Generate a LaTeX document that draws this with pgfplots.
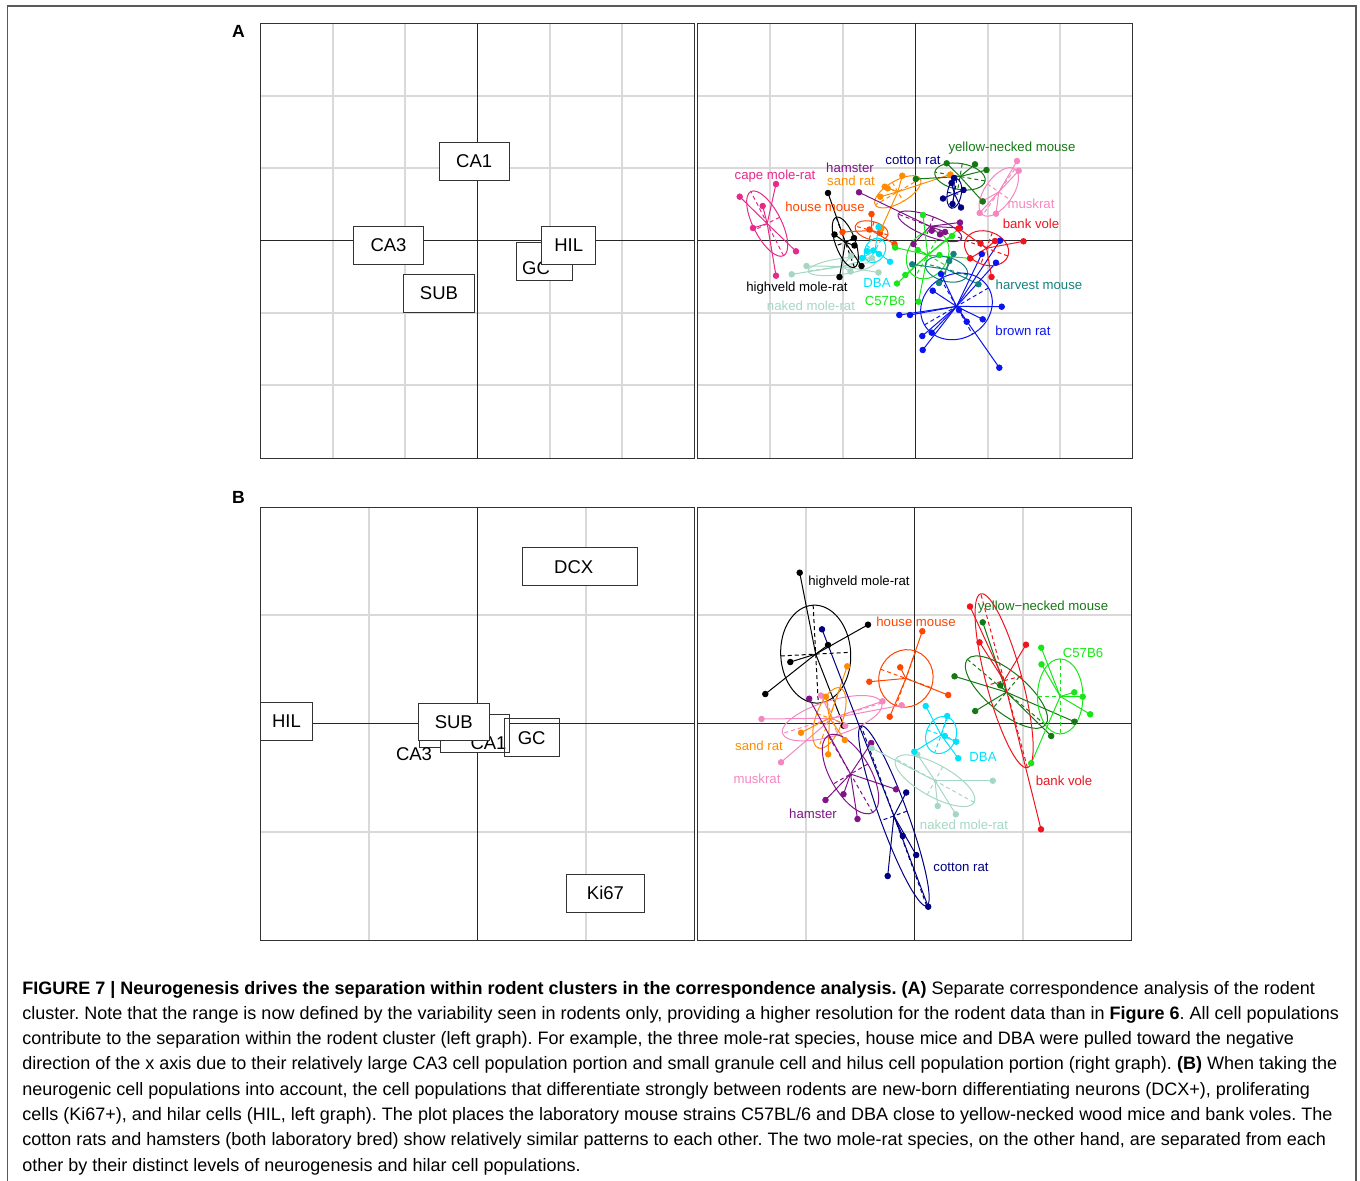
\documentclass[border=0pt]{standalone}
\usepackage{fontspec}
\setmainfont{Liberation Sans}
\usepackage{pgfplots}
\pgfplotsset{compat=1.18}
\frenchspacing
\definecolor{capecol}{RGB}{231,41,138}
\definecolor{hamcol}{RGB}{128,20,135}
\definecolor{sandcol}{RGB}{255,140,0}
\definecolor{housecol}{RGB}{255,69,0}
\definecolor{cottoncol}{RGB}{0,0,128}
\definecolor{yncol}{RGB}{20,120,20}
\definecolor{muskcol}{RGB}{245,135,192}
\definecolor{bvcol}{RGB}{240,20,30}
\definecolor{dbacol}{RGB}{0,225,250}
\definecolor{c57col}{RGB}{25,230,25}
\definecolor{harvcol}{RGB}{20,128,128}
\definecolor{browncol}{RGB}{10,20,240}
\definecolor{nakedcol}{RGB}{165,215,195}
\definecolor{gridcol}{RGB}{217,217,217}
\newcommand\spfont{\fontsize{6.6}{8}\selectfont}
\newcommand\boxfont{\fontsize{9.25}{11}\selectfont}
% species: color, cx, cy, a, b, angle, points
\newcommand\species[7]{%
  \addplot[#1, line width=0.5pt, quiver={u={#2-\thisrow{x}}, v={#3-\thisrow{y}}}] table[row sep=\\] {x y\\ #7};
  \addplot[#1, only marks, mark=*, mark size=1.4pt] table[row sep=\\] {x y\\ #7};
  \draw[#1, line width=0.5pt] (axis cs:#2,#3) ellipse [x radius={#4*0.5pt}, y radius={#5*0.5pt}, rotate=#6];
  \draw[#1, line width=0.5pt, dash pattern=on 2pt off 1.5pt] (axis cs:#2,#3) ++(#6:{#4*0.5pt}) -- ++(#6+180:{2*#4*0.5pt});
  \draw[#1, line width=0.5pt, dash pattern=on 2pt off 1.5pt] (axis cs:#2,#3) ++(#6+90:{#5*0.5pt}) -- ++(#6+270:{2*#5*0.5pt});
}
\newcommand\lab[4]{\node[text=#1, font=\spfont, inner sep=0pt] at (axis cs:#2,#3) {#4};}
\newcommand\bx[6]{\node[draw=black!80, fill=white, line width=0.5pt, inner sep=0pt, minimum width={#3*0.5pt}, minimum height={#4*0.5pt}, font=\boxfont] at (axis cs:#1,#2) {#6};}
\pgfplotsset{panel/.style={scale only axis, anchor=north west,
  xticklabels={}, yticklabels={}, major tick length=0pt,
  grid=major, major grid style={gridcol, line width=0.75pt},
  axis line style={black!80, line width=0.5pt},
  extra x tick labels={}, extra y tick labels={},
  extra tick style={major grid style={black!85, line width=0.5pt}},
  clip=true}}
\begin{document}
\begin{tikzpicture}
\path[use as bounding box] (0,0) rectangle (680pt,-590pt);
\draw[black!65, line width=0.75pt] (3.65pt,-591pt) -- (3.65pt,-3pt) -- (678pt,-3pt) -- (678pt,-591pt);
\node[font=\bfseries\fontsize{8.8}{10}\selectfont, inner sep=0pt] at (119.2pt,-15.7pt) {A};
\node[font=\bfseries\fontsize{8.8}{10}\selectfont, inner sep=0pt] at (119.2pt,-248.7pt) {B};

% ---------- A left ----------
\begin{axis}[panel, at={(130pt,-11.5pt)}, width=217pt, height=217.5pt,
  xmin=260, xmax=694, ymin=-458, ymax=-23,
  xtick={333,405,550,622}, ytick={-96,-168,-313,-385},
  extra x ticks={477}, extra y ticks={-240}]
\addplot[draw=none] coordinates {(477,-240)};
\bx{474.2}{-161.3}{69.7}{38}{}{CA1}
\bx{388.5}{-245.5}{69.6}{37.6}{}{CA3}
\bx{439}{-293.3}{71.4}{38}{}{SUB}
\bx{544.5}{-261.5}{55.6}{37.6}{}{}
\node[font=\boxfont, inner sep=0pt] at (axis cs:536,-267.7) {GC};
\bx{568.7}{-245.5}{54}{37.6}{}{HIL}
\end{axis}

% ---------- A right ----------
\begin{axis}[panel, at={(348.5pt,-11.5pt)}, width=217.5pt, height=217.5pt,
  xmin=697, xmax=1132, ymin=-458, ymax=-23,
  xtick={770,843,988,1060}, ytick={-96,-168,-313,-385},
  extra x ticks={915}, extra y ticks={-240}]
\species{capecol}{767.2}{-223.6}{36}{14}{-63}{739.7 -196.7\\ 776 -184\\ 762.7 -206\\ 753 -228\\ 796 -251.3\\ 776 -275.7\\}
\species{nakedcol}{841.7}{-266.4}{34}{8}{8}{791.7 -274.3\\ 806.5 -266\\ 850.5 -271.5\\ 878.5 -272.5\\ 872 -258\\ 851 -256\\}
\species{black}{845.3}{-242.3}{26.6}{10}{-70}{828 -193\\ 834.5 -234.5\\ 854 -238\\ 854.5 -245.5\\ 861.5 -266\\ 839.5 -277\\}
\species{housecol}{871.6}{-230.5}{17}{9}{-15}{871.5 -214\\ 869.5 -229.5\\ 842.5 -232\\ 894.5 -244\\ 880 -233\\}
\species{sandcol}{897.8}{-191.8}{26}{11}{30}{880.3 -196.7\\ 884.7 -186.7\\ 887.7 -188.3\\ 902.3 -175.7\\ 950.3 -174.5\\ 881.3 -228.7\\}
\species{hamcol}{929.9}{-226.3}{34}{10}{-21}{859 -192.3\\ 960 -222.5\\ 960 -228\\ 931.7 -230.7\\ 940 -234.3\\ 913.5 -244\\ 945 -232\\}
\species{dbacol}{875}{-250.4}{13}{10}{60}{878.5 -227\\ 873.3 -250.5\\ 879 -254\\ 890 -261.7\\ 867 -251\\ 862 -258\\}
\species{c57col}{927.7}{-255}{25}{20}{60}{923 -215\\ 958.5 -229\\ 952 -236\\ 939.5 -255\\ 970 -258.3\\ 895.2 -247.5\\ 917.7 -250\\ 897 -283.5\\ 918.5 -301.7\\ 905.3 -275\\}
\species{harvcol}{946.5}{-269.3}{21.7}{12}{-15}{953.5 -254\\ 949.2 -261\\ 912.2 -264.3\\ 939 -283\\ 978.5 -284.2\\}
\species{browncol}{956.5}{-306.4}{37}{32}{30}{1000 -240.7\\ 981.7 -254\\ 996 -262.7\\ 941 -274\\ 932.7 -290.7\\ 1001.7 -306.7\\ 899.3 -315\\ 910 -315\\ 959 -310\\ 982.7 -319.3\\ 966.7 -321.7\\ 931.7 -332.7\\ 922.3 -336\\ 922.7 -350\\ 999.3 -367.7\\}
\species{bvcol}{986.6}{-248.2}{22.7}{16.7}{-20}{980.5 -243.3\\ 1023.5 -241.3\\ 991.5 -277\\ 970.3 -258.3\\ 958.5 -228.5\\ 995 -241\\}
\species{muskcol}{998.8}{-191.9}{28}{14}{55}{1017 -161\\ 1018.7 -170.7\\ 982.7 -201\\ 979.7 -213\\ 996 -213.7\\}
\species{yncol}{960}{-176.5}{25.5}{13}{-10}{946.7 -163.3\\ 975 -164.3\\ 986.5 -170\\ 915.8 -179\\ 982.7 -201.5\\}
\species{cottoncol}{954.3}{-193.5}{15}{7}{80}{951.5 -183\\ 963.5 -190\\ 943 -198.5\\ 952.5 -204\\ 961 -207.5\\ 954 -178\\}
\lab{capecol}{775}{-176}{cape mole-rat}
\lab{hamcol}{850}{-168}{hamster}
\lab{sandcol}{851}{-181}{sand rat}
\lab{housecol}{825}{-207}{house mouse}
\lab{cottoncol}{913}{-160}{cotton rat}
\lab{yncol}{1012}{-148}{yellow-necked mouse}
\lab{muskcol}{1031}{-204}{muskrat}
\lab{bvcol}{1031}{-224}{bank vole}
\lab{black}{797}{-288}{highveld mole-rat}
\lab{nakedcol}{811}{-306}{naked mole-rat}
\lab{dbacol}{877}{-283}{DBA}
\lab{c57col}{885}{-301}{C57B6}
\lab{harvcol}{1039}{-285}{harvest mouse}
\lab{browncol}{1023}{-331}{brown rat}
\end{axis}

% ---------- B left ----------
\begin{axis}[panel, at={(130pt,-253.5pt)}, width=217pt, height=216.5pt,
  xmin=260, xmax=694, ymin=-940, ymax=-507,
  xtick={369,586}, ytick={-615,-832},
  extra x ticks={477}, extra y ticks={-723}]
\addplot[draw=none] coordinates {(477,-723)};
\bx{580}{-566.8}{114.6}{38.3}{}{}
\node[font=\boxfont, inner sep=0pt] at (axis cs:573.7,-567) {DCX};
\bx{286.5}{-721.2}{52.5}{37.7}{}{HIL}
\bx{454.2}{-728.5}{69.6}{37.6}{}{}
\node[font=\boxfont, inner sep=0pt] at (axis cs:414,-754.3) {CA3};
\bx{474.8}{-733.3}{69}{38}{}{}
\node[font=\boxfont, inner sep=0pt] at (axis cs:488.5,-743) {CA1};
\node[draw=black!80, line width=0.5pt, inner sep=0pt, minimum width={55*0.5pt}, minimum height={38*0.5pt}] at (axis cs:531.8,-737.3) {};
\node[font=\boxfont, inner sep=0pt] at (axis cs:531.7,-737.7) {GC};
\bx{453.8}{-721.7}{71}{36.7}{}{SUB}
\bx{605.5}{-893.3}{77.6}{38}{}{Ki67}
\end{axis}

% ---------- B right ----------
\begin{axis}[panel, at={(348.5pt,-253.5pt)}, width=217pt, height=216.5pt,
  xmin=697, xmax=1131, ymin=-940, ymax=-507,
  xtick={806,1023}, ytick={-615,-832},
  extra x ticks={914}, extra y ticks={-723}]
\species{black}{815.7}{-654.1}{49}{35}{93}{799.7 -572.7\\ 868 -624.7\\ 828 -645\\ 790.3 -662\\ 765.3 -694\\ 843.7 -725.7\\}
\species{housecol}{905.9}{-678.4}{29}{27}{70}{922.3 -631.2\\ 900.2 -667.3\\ 869.3 -681.7\\ 948.2 -695\\ 889.7 -716.7\\}
\species{muskcol}{832.2}{-718.2}{52}{17.6}{17}{761.5 -719\\ 781 -762.3\\ 821 -695.5\\ 845.3 -725.7\\ 882.5 -701.3\\ 901.7 -705.2\\}
\species{sandcol}{829.4}{-718}{32}{13.4}{70}{847.2 -666.3\\ 826 -696.7\\ 801 -732.7\\ 844.8 -740\\ 828.2 -754.3\\}
\species{hamcol}{850.5}{-774}{44.5}{20}{-60}{809.2 -698.7\\ 871.2 -743\\ 896 -789.3\\ 825.5 -800\\ 843.5 -794.2\\ 857.5 -819\\}
\species{cottoncol}{893.9}{-815.9}{95.7}{14}{-70}{822 -629.3\\ 906.2 -792.5\\ 902.8 -836\\ 916.2 -855\\ 887.7 -876\\ 928.2 -906.7\\}
\species{nakedcol}{935}{-780.7}{44.8}{16}{-29}{871.5 -748\\ 917.3 -754.5\\ 992.8 -780.7\\ 937.7 -806\\ 955.8 -814.3\\}
\species{dbacol}{941.1}{-735}{19}{15}{70}{925.7 -706\\ 947.2 -716\\ 944.8 -736\\ 956.2 -741.7\\ 958.2 -758.3\\ 914.3 -751.7\\}
\species{yncol}{1006.4}{-692.1}{51}{20}{-40}{982.7 -622.3\\ 954.5 -676.3\\ 1000.2 -685.3\\ 975.2 -711\\ 1074.5 -721.7\\ 1051.2 -736\\}
\species{c57col}{1060.2}{-696.4}{37.5}{22.7}{90}{1041.2 -647.7\\ 1041.5 -664.3\\ 1074.3 -692.3\\ 1082.7 -696.7\\ 1090.2 -714.3\\ 1031.2 -763.2\\}
\species{bvcol}{1004.1}{-680.7}{90}{18}{-75}{970 -606.5\\ 979.5 -642.3\\ 1026 -644.7\\ 1041 -829.3\\}
\lab{black}{859}{-582}{highveld mole-rat}
\lab{housecol}{916}{-622}{house mouse}
\lab{yncol}{1043}{-607}{yellow−necked mouse}
\lab{c57col}{1083}{-653}{C57B6}
\lab{bvcol}{1064}{-781}{bank vole}
\lab{dbacol}{983}{-757}{DBA}
\lab{nakedcol}{964}{-825}{naked mole-rat}
\lab{cottoncol}{961}{-867}{cotton rat}
\lab{hamcol}{813}{-814}{hamster}
\lab{sandcol}{759}{-746}{sand rat}
\lab{muskcol}{757}{-779}{muskrat}
\end{axis}

% ---------- caption ----------
\begin{scope}[every node/.style={anchor=base west, inner sep=0pt, font=\fontsize{9.0}{10}\selectfont}]
\node at (11pt,-497pt) {\textbf{FIGURE 7 | Neurogenesis drives the separation within rodent clusters in the correspondence analysis. (A)} Separate correspondence analysis of the rodent};
\node at (11pt,-509.65pt) {cluster. Note that the range is now defined by the variability seen in rodents only, providing a higher resolution for the rodent data than in \textbf{Figure 6}. All cell populations};
\node at (11pt,-522.3pt) {contribute to the separation within the rodent cluster (left graph). For example, the three mole-rat species, house mice and DBA were pulled toward the negative};
\node at (11pt,-534.95pt) {direction of the x axis due to their relatively large CA3 cell population portion and small granule cell and hilus cell population portion (right graph). \textbf{(B)} When taking the};
\node at (11pt,-547.6pt) {neurogenic cell populations into account, the cell populations that differentiate strongly between rodents are new-born differentiating neurons (DCX+), proliferating};
\node at (11pt,-560.25pt) {cells (Ki67+), and hilar cells (HIL, left graph). The plot places the laboratory mouse strains C57BL/6 and DBA close to yellow-necked wood mice and bank voles. The};
\node at (11pt,-572.9pt) {cotton rats and hamsters (both laboratory bred) show relatively similar patterns to each other. The two mole-rat species, on the other hand, are separated from each};
\node at (11pt,-585.55pt) {other by their distinct levels of neurogenesis and hilar cell populations.};
\end{scope}
\end{tikzpicture}
\end{document}
